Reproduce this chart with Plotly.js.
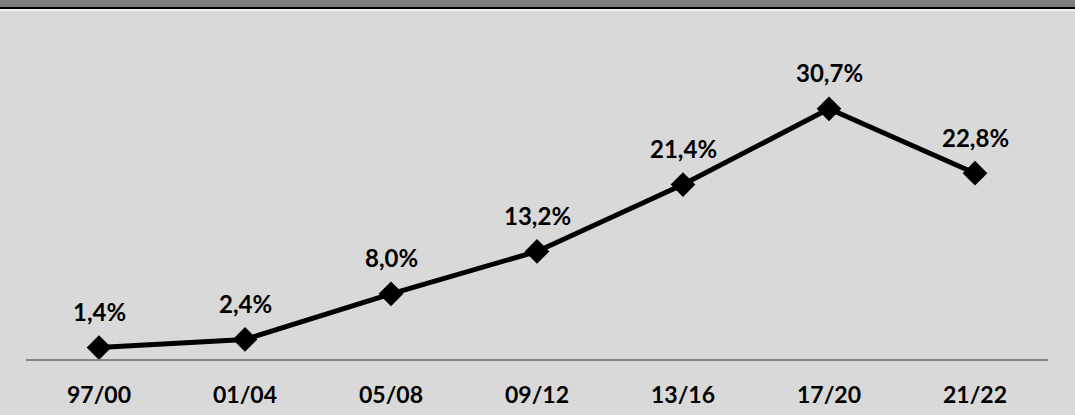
<!DOCTYPE html>
<html>
<head>
<meta charset="utf-8">
<script src="https://cdn.plot.ly/plotly-3.0.1.min.js"></script>
<style>
html,body{margin:0;padding:0;background:#d9d9d9;}
#wrap{position:relative;width:1075px;height:415px;overflow:hidden;}
#chart{position:absolute;left:0;top:0;width:1075px;height:415px;}
#topbar{position:absolute;left:0;top:0;width:1075px;height:7px;background:#7f7f7f;border-bottom:2px solid #000;z-index:5;}
#topwhite{position:absolute;left:0;top:9px;width:1075px;height:2px;background:#f2f2f2;z-index:5;}
</style>
</head>
<body>
<div id="wrap">
<div id="chart"></div>
<div id="topbar"></div>
<div id="topwhite"></div>
</div>
<script>
const categories = ["97/00","01/04","05/08","09/12","13/16","17/20","21/22"];
const values = [1.4, 2.4, 8.0, 13.2, 21.4, 30.7, 22.8];
const labels = values.map(v => v.toFixed(1).replace('.', ',') + '%');

const FONT = 'Lato, "Open Sans", sans-serif';

const trace = {
  x: categories,
  y: values,
  type: 'scatter',
  mode: 'lines+markers',
  line: {color: '#000000', width: 5},
  marker: {symbol: 'diamond', size: 19, color: '#000000'},
  hoverinfo: 'skip'
};

const annotations = categories.map((c, i) => ({
  x: c, y: values[i], xref: 'x', yref: 'y',
  text: '<b>' + labels[i] + '</b>',
  showarrow: false,
  yanchor: 'middle', xanchor: 'center',
  yshift: 36,
  font: {family: FONT, size: 24, color: '#000000'}
}));

const layout = {
  width: 1075, height: 415,
  paper_bgcolor: '#d9d9d9',
  plot_bgcolor: '#d9d9d9',
  margin: {l: 26, r: 27, t: 33, b: 56},
  showlegend: false,
  xaxis: {
    type: 'category',
    range: [-0.5, 6.5],
    showgrid: false,
    zeroline: false,
    showline: true,
    linecolor: '#878787',
    linewidth: 2,
    ticks: '',
    tickfont: {family: FONT, size: 23, color: '#000000', weight: 'bold'},
    ticklabelstandoff: 14,
    fixedrange: true
  },
  yaxis: {
    range: [0, 40],
    showgrid: false,
    zeroline: false,
    showline: false,
    showticklabels: false,
    ticks: '',
    fixedrange: true
  },
  annotations: annotations
};

Plotly.newPlot('chart', [trace], layout, {displayModeBar: false, staticPlot: true});
</script>
</body>
</html>
